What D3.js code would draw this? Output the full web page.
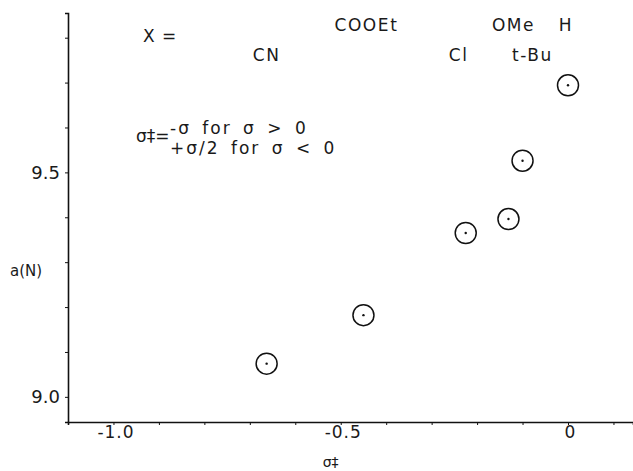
<!DOCTYPE html>
<html>
<head>
<meta charset="utf-8">
<script src="https://cdn.jsdelivr.net/npm/d3@7"></script>
<style>
    body { margin: 0; background: #fff; }
    svg text { font-family: "DejaVu Sans", "Liberation Sans", sans-serif; font-weight: normal; fill: #1a1a1a; }
</style>
</head>
<body>
<svg id="chart" width="633" height="471"></svg>
<script>
// substituents X, sigma-double-dagger and a(N)
var substituents = ["CN", "COOEt", "Cl", "t-Bu", "OMe", "H"];
var sigma = [-0.663, -0.450, -0.225, -0.131, -0.100, 0.000];
var aN = [9.074, 9.182, 9.365, 9.396, 9.526, 9.694];
var xTickLabels = ["-1.0", "-0.5", "0"];
var yTickLabels = ["9.0", "9.5"];

function draw_chart() {
    var canvas = d3.select("#chart"),
        width = 633,
        height = 471,
        margins = {"left": 68, "right": 0, "top": 13, "bottom": 49};

    var x = d3.scaleLinear().domain([-1.1, 0.143]).range([margins.left, width - margins.right]),
        y = d3.scaleLinear().domain([8.944, 9.855]).range([height - margins.bottom, margins.top]);

    // axes: minor ticks every 0.1, labels only on a few
    var xaxis = d3.axisBottom(x)
        .tickValues(d3.range(-10, 2).map(d => d / 10))
        .tickSize(3)
        .tickFormat(d => {
            var i = xTickLabels.map(parseFloat).findIndex(v => Math.abs(v - d) < 1e-6);
            return i < 0 ? "" : xTickLabels[i];
        });
    var yaxis = d3.axisLeft(y)
        .tickValues(d3.range(90, 99).map(d => d / 10))
        .tickSize(3)
        .tickFormat(d => {
            var i = yTickLabels.map(parseFloat).findIndex(v => Math.abs(v - d) < 1e-6);
            return i < 0 ? "" : yTickLabels[i];
        });

    var gx = canvas.append("g").attr("transform", "translate(" + [0, height - margins.bottom] + ")").call(xaxis);
    var gy = canvas.append("g").attr("transform", "translate(" + [margins.left, 0] + ")").call(yaxis);

    [gx, gy].forEach(g => {
        g.select(".domain").attr("stroke", "#111").attr("stroke-width", 1.6);
        g.selectAll(".tick line").attr("stroke", "#111").attr("stroke-width", 1);
        g.selectAll(".tick text").attr("fill", "#1a1a1a").style("font-size", "17px");
    });
    gx.selectAll(".tick text").attr("y", 16).attr("dy", 0).attr("dx", 2).attr("letter-spacing", "1px");
    gy.selectAll(".tick text").attr("dx", "-2px").style("font-size", "18px");

    // axis titles
    canvas.append("text").attr("x", 10).attr("y", 276).text("a(N)").style("font-size", "15px");
    canvas.append("text").attr("x", x(-0.5) - 18).attr("y", 467).style("font-size", "14px")
        .text("σ‡");

    // substituent header rows
    var row = {"CN": 1, "COOEt": 0, "Cl": 1, "t-Bu": 1, "OMe": 0, "H": 0},
        shift = {"CN": 0, "COOEt": 3, "Cl": -7, "t-Bu": 24, "OMe": -9, "H": -2},
        rowY = [31, 61];

    canvas.append("text").attr("x", 143).attr("y", 42).style("font-size", "17px")
        .attr("letter-spacing", "1px").text("X =");

    canvas.append("g").selectAll("text").data(substituents).enter()
        .append("text")
        .attr("x", (d, i) => x(sigma[i]) + shift[d])
        .attr("y", d => rowY[row[d]])
        .attr("text-anchor", "middle")
        .attr("letter-spacing", "1.6px")
        .style("font-size", "17px")
        .text(d => d);

    // definition of sigma-double-dagger
    var note = canvas.append("g").style("font-size", "17px");
    note.append("text").attr("x", 136).attr("y", 142).text("σ‡=");
    note.append("text").attr("x", 170).attr("y", 134)
        .attr("letter-spacing", "2px").attr("word-spacing", "4px").text("-σ for σ > 0");
    note.append("text").attr("x", 170).attr("y", 154)
        .attr("letter-spacing", "2px").attr("word-spacing", "4px").text("+σ/2 for σ < 0");

    // points: open circle with a centre dot
    var pts = canvas.append("g").selectAll("g").data(substituents).enter()
        .append("g")
        .attr("transform", (d, i) => "translate(" + [x(sigma[i]), y(aN[i])] + ")");
    pts.append("circle").attr("r", 10.5).attr("fill", "none").attr("stroke", "#111").attr("stroke-width", 1.5);
    pts.append("circle").attr("r", 1.2).attr("fill", "#111");
}

draw_chart();
</script>
</body>
</html>
